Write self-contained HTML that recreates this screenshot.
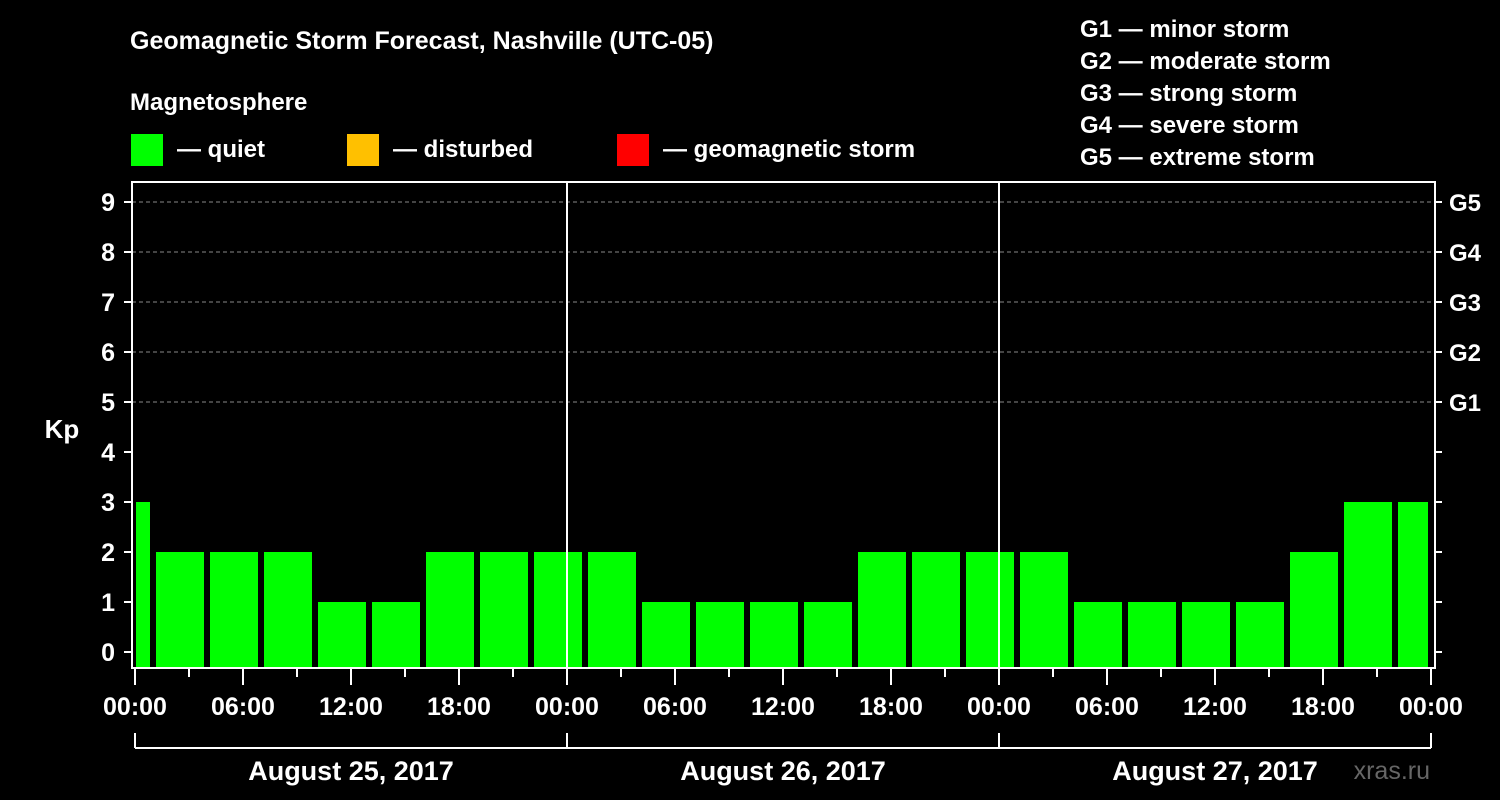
<!DOCTYPE html>
<html><head><meta charset="utf-8"><style>
body{margin:0;background:#000;}
svg{display:block;font-family:"Liberation Sans",Arial,sans-serif;font-weight:bold;}
</style></head><body>
<svg id="c" width="1500" height="800" viewBox="0 0 1500 800">
<rect width="1500" height="800" fill="#000"/>
<text x="130" y="49" font-size="25" fill="#fff">Geomagnetic Storm Forecast, Nashville (UTC-05)</text>
<text x="130" y="110" font-size="24" fill="#fff">Magnetosphere</text>
<g><rect x="131" y="134" width="32" height="32" fill="#00ff00"/><text x="177" y="157" font-size="24" fill="#fff">— quiet</text></g>
<g><rect x="347" y="134" width="32" height="32" fill="#ffc000"/><text x="393" y="157" font-size="24" fill="#fff">— disturbed</text></g>
<g><rect x="617" y="134" width="32" height="32" fill="#ff0000"/><text x="663" y="157" font-size="24" fill="#fff">— geomagnetic storm</text></g>
<g font-size="24" fill="#fff">
<text x="1080" y="37">G1 — minor storm</text>
<text x="1080" y="69">G2 — moderate storm</text>
<text x="1080" y="101">G3 — strong storm</text>
<text x="1080" y="133">G4 — severe storm</text>
<text x="1080" y="165">G5 — extreme storm</text>
</g>
<text x="62" y="438" font-size="26" fill="#fff" text-anchor="middle">Kp</text>
<text x="1430" y="779" font-size="25" fill="#666" text-anchor="end" font-weight="normal">xras.ru</text>
<g id="plot"></g>
</svg>
<script>
const values=[3,2,2,2,1,1,2,2,2,2,1,1,1,1,2,2,2,2,1,1,1,1,2,3,3];
const slotStartHours=[-2,1,4,7,10,13,16,19,22,25,28,31,34,37,40,43,46,49,52,55,58,61,64,67,70];
const yTicks=[0,1,2,3,4,5,6,7,8,9];
const gLabels=["G1","G2","G3","G4","G5"];
const gLevels=[5,6,7,8,9];
const xTickLabels=["00:00","06:00","12:00","18:00","00:00","06:00","12:00","18:00","00:00","06:00","12:00","18:00","00:00"];
const dayLabels=["August 25, 2017","August 26, 2017","August 27, 2017"];
const NS="http://www.w3.org/2000/svg";
const g=document.getElementById('plot');
const X0=135,PXH=18,L=132,R=1435,T=182,B=668;
const x=h=>X0+h*PXH;
const y=v=>652-v*50;
function mk(t,a,p){const e=document.createElementNS(NS,t);for(const k in a)e.setAttribute(k,a[k]);(p||g).appendChild(e);return e;}
// grid
gLevels.forEach((v,i)=>{
 const l=mk('line',{x1:L,x2:R,y1:y(v),y2:y(v),stroke:'#888','stroke-dasharray':'4,3','stroke-width':1});
 
 
 const t=mk('text',{x:1449,y:y(v)+9,'font-size':24,fill:'#fff'});t.textContent=gLabels[i];
 
 
});
// bars
values.forEach((v,i)=>{
 let a=x(slotStartHours[i])+3,b=x(slotStartHours[i]+3)-3;
 a=Math.max(a,X0+1);b=Math.min(b,x(72)-3);
 const r=mk('rect',{x:a,y:y(v),width:b-a,height:B-y(v),fill:'#00ff00'});
 
 
});
// day separators
[24,48].forEach(h=>{const l=mk('line',{x1:x(h),x2:x(h),y1:T,y2:B,stroke:'#fff','stroke-width':2});
 
 });
// frame
const f=mk('rect',{x:L,y:T,width:R-L,height:B-T,fill:'none',stroke:'#fff','stroke-width':2});


// y ticks
yTicks.forEach(v=>{
 mk('line',{x1:124,x2:L,y1:y(v),y2:y(v),stroke:'#fff','stroke-width':2});
 mk('line',{x1:R,x2:R+7,y1:y(v),y2:y(v),stroke:'#fff','stroke-width':2});
 const t=mk('text',{x:115,y:y(v)+9,'font-size':25,fill:'#fff','text-anchor':'end'});t.textContent=v;
 
 
});
// x ticks
for(let h=0;h<=72;h+=3){mk('line',{x1:x(h),x2:x(h),y1:B,y2:h%6==0?685:677,stroke:'#fff','stroke-width':2});}
xTickLabels.forEach((s,i)=>{const t=mk('text',{x:x(i*6),y:715,'font-size':25,fill:'#fff','text-anchor':'middle'});t.textContent=s;
 
 });
// day bracket
mk('line',{x1:x(0),x2:x(72),y1:748,y2:748,stroke:'#fff','stroke-width':2});
for(let d=0;d<=3;d++)mk('line',{x1:x(d*24),x2:x(d*24),y1:733,y2:748,stroke:'#fff','stroke-width':2});
dayLabels.forEach((s,i)=>{const t=mk('text',{x:x(i*24+12),y:780,'font-size':27,fill:'#fff','text-anchor':'middle'});t.textContent=s;
 
 });
</script>
</body></html>
